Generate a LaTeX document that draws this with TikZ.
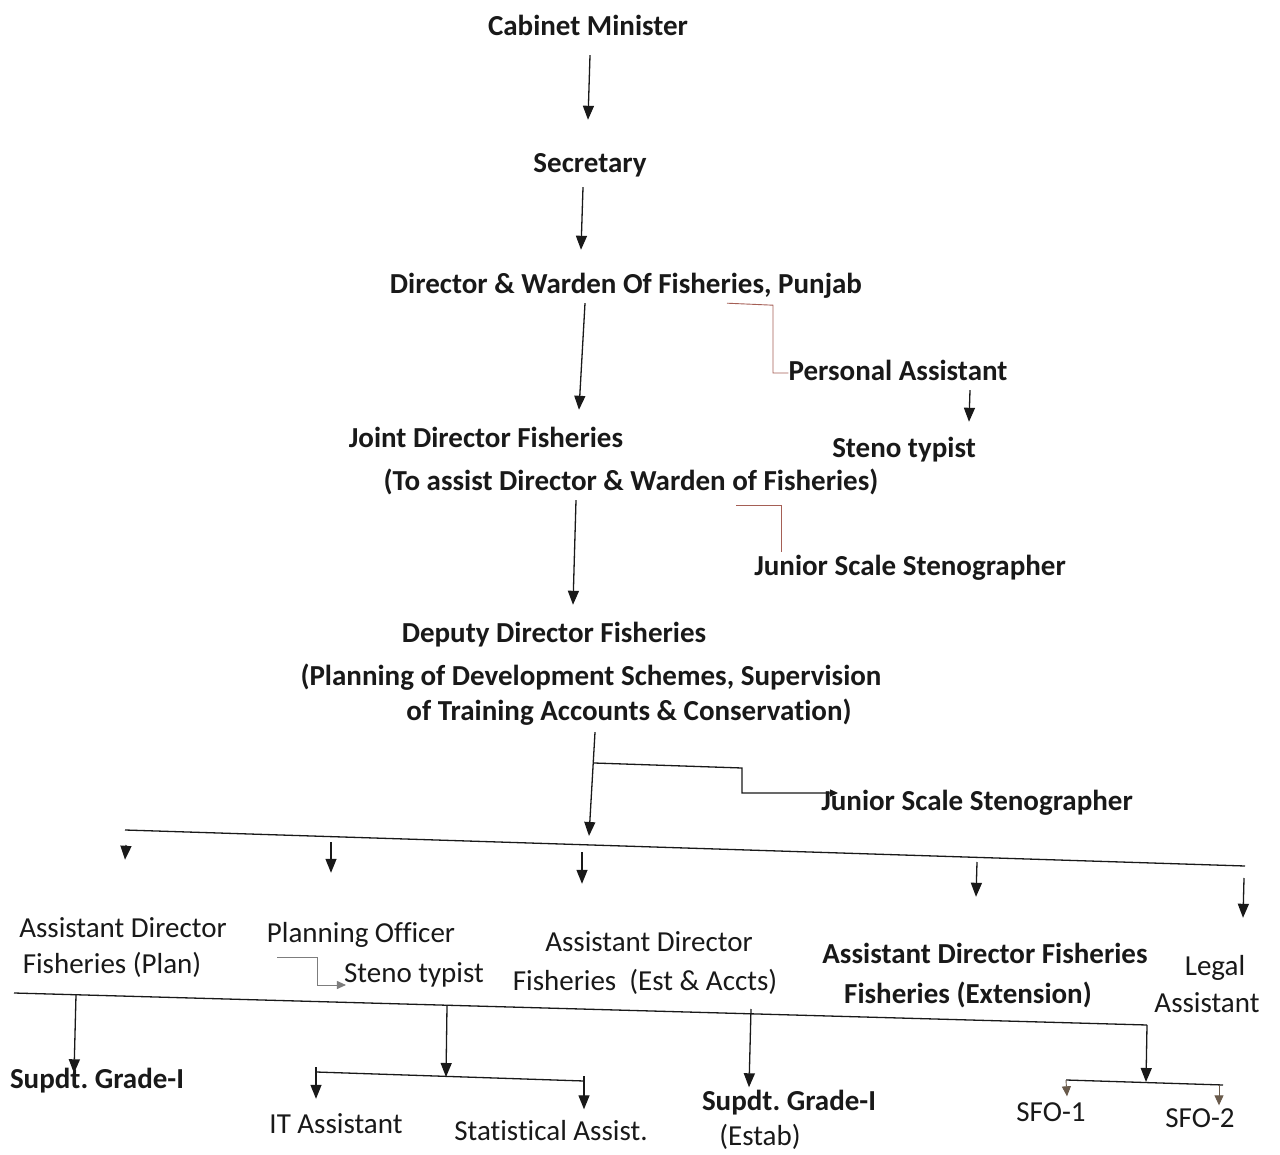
\documentclass[tikz,border=0pt]{standalone}
\usepackage{fontspec}
\setmainfont{Carlito}[Ligatures=NoCommon]
\usetikzlibrary{arrows.meta}
\definecolor{ink}{RGB}{25,25,25}
\definecolor{redline}{RGB}{165,95,85}
\definecolor{grayline}{RGB}{125,125,125}
\definecolor{brownarr}{RGB}{105,90,75}
\frenchspacing
\begin{document}
\begin{tikzpicture}[x=1pt,y=-1pt,
  lbl/.style={inner sep=0pt, text height=21pt, text depth=6pt, text=ink, font=\fontsize{29}{34}\selectfont},
  lblb/.style={lbl, font=\fontsize{29}{34}\selectfont\bfseries},
  arr/.style={draw=ink, line width=1.3pt, -{Triangle[width=11pt,length=14pt]}},
  sarr/.style={draw=brownarr, line width=0.9pt, -{Triangle[width=9pt,length=10pt]}},
  ln/.style={draw=ink, line width=1.3pt},
  rl/.style={draw=redline, line width=0.9pt},
  gl/.style={draw=grayline, line width=0.9pt, -{Triangle[width=8pt,length=9pt]}}]
\useasboundingbox[fill=white] (0,0) rectangle (1280,1155);

% ---------- nodes ----------
\node[lblb] (cab)   at (588,28)   {Cabinet Minister};
\node[lblb] (sec)   at (590,165)  {Secretary};
\node[lblb] (dir)   at (626,286)  {Director \& Warden Of Fisheries, Punjab};
\node[lblb] (pa)    at (898,373)  {Personal Assistant};
\node[lblb] (st1)   at (904,450)  {Steno typist};
\node[lblb] (jd)    at (486,440)  {Joint Director Fisheries};
\node[lblb] (jdsub) at (631,483)  {(To assist Director \& Warden of Fisheries)};
\node[lblb] (jss1)  at (910,568)  {Junior Scale Stenographer};
\node[lblb] (dd)    at (554,635)  {Deputy Director Fisheries};
\node[lblb] (dd2)   at (591,678)  {(Planning of Development Schemes, Supervision};
\node[lblb] (dd3)   at (629,713)  {of Training Accounts \& Conservation)};
\node[lblb] (jss2)  at (977,803)  {Junior Scale Stenographer};
\node[lbl]  (ad1a)  at (123,930)  {Assistant Director};
\node[lbl]  (ad1b)  at (112,966)  {Fisheries (Plan)};
\node[lbl]  (po)    at (361,935)  {Planning Officer};
\node[lbl]  (st2)   at (414,975)  {Steno typist};
\node[lbl]  (ad2a)  at (649,944)  {Assistant Director};
\node[lbl]  (ad2b)  at (645,983)  {Fisheries\ \ (Est \& Accts)};
\node[lblb] (ad3a)  at (985,956)  {Assistant Director Fisheries};
\node[lblb] (ad3b)  at (968,996)  {Fisheries (Extension)};
\node[lbl]  (lg1)   at (1215,968) {Legal};
\node[lbl]  (lg2)   at (1207,1005){Assistant};
\node[lblb] (sg1)   at (97,1081)  {Supdt. Grade-I};
\node[lbl]  (it)    at (336,1126) {IT Assistant};
\node[lbl]  (stat)  at (551,1133) {Statistical Assist.};
\node[lblb] (sg2)   at (789,1103) {Supdt. Grade-I};
\node[lbl]  (sg2b)  at (760,1138) {(Estab)};
\node[lbl]  (sfo1)  at (1051,1114){SFO-1};
\node[lbl]  (sfo2)  at (1200,1120){SFO-2};

% ---------- coordinates ----------
\coordinate (barL) at (125,830);
\coordinate (barR) at (1245,866);
\coordinate (ddtip) at (589,836);
\coordinate (ddbr) at (594,763);
\coordinate (d1) at (126,845);
\coordinate (d2) at (331,842);
\coordinate (d3) at (582,852);
\coordinate (d4) at (977,862);
\coordinate (d5) at (1244,878);
\coordinate (lbarL) at (14,993);
\coordinate (lbarR) at (1147,1025);
\coordinate (e1) at (76,995);
\coordinate (e2) at (447,1006);
\coordinate (e3) at (751,1009);
\coordinate (sbL) at (316,1072);
\coordinate (sbR) at (584,1081);
\coordinate (sbtip) at (446,1077);
\coordinate (sb2L) at (1066,1080);
\coordinate (sb2R) at (1223,1085);
\coordinate (sb2tip) at (1146,1082);

% ---------- connectors ----------
\draw[arr] ([xshift=2pt,yshift=-13.5pt]cab.south) -- ([xshift=-2pt,yshift=31.5pt]sec.north);
\draw[arr] ([xshift=-7pt,yshift=-8.5pt]sec.south) -- ([xshift=-45pt,yshift=22.5pt]dir.north);
\draw[arr] ([xshift=-41pt,yshift=-3.5pt]dir.south) -- ([xshift=93pt,yshift=16.5pt]jd.north);
\draw[rl] ([xshift=101pt,yshift=-3.5pt]dir.south) -- ++(46,2) |- (pa.west);
\draw[arr] ([xshift=72pt,yshift=-3.5pt]pa.south) -- ([xshift=65pt,yshift=14.5pt]st1.north);
\draw[rl] ([xshift=105pt,yshift=-9pt]jdsub.south) -- ++(45,0) -- ([xshift=-129pt,yshift=2pt]jss1.north);
\draw[arr] ([xshift=-55pt,yshift=-3.5pt]jdsub.south) -- ([xshift=19pt,yshift=16.5pt]dd.north);
\draw[arr] ([xshift=-34pt,yshift=-5.5pt]dd3.south) -- (ddtip);
\draw[ln, -{Triangle[width=7pt,length=8pt]}] (ddbr) -- ++(148,5) |- ([xshift=17pt,yshift=10pt]jss2.west);

\draw[ln] (barL) -- (barR);
\draw[arr] (d1) -- ([xshift=2pt,yshift=56.5pt]ad1a.north);
\draw[arr] (d2) -- ([xshift=-30pt,yshift=48.5pt]po.north);
\draw[arr] (d3) -- ([xshift=-67pt,yshift=46.5pt]ad2a.north);
\draw[arr] (d4) -- ([xshift=-9pt,yshift=45.5pt]ad3a.north);
\draw[arr] (d5) -- ([xshift=28pt,yshift=36.5pt]lg1.north);

\draw[gl] ([xshift=-84pt,yshift=-8.5pt]po.south) -- ++(40,0) |- ([xshift=2pt,yshift=-10pt]st2.west);

\draw[ln] (lbarL) -- (lbarR);
\draw[arr] (e1) -- ([xshift=-23pt,yshift=-6pt]sg1.north);
\draw[arr] (e2) -- (sbtip);
\draw[ln] (sbL) -- (sbR);
\draw[arr] ([yshift=5pt]sbL) -- ([xshift=-20pt,yshift=13.5pt]it.north);
\draw[arr] ([yshift=5pt]sbR) -- ([xshift=33pt,yshift=10pt]stat.north);
\draw[arr] (e3) -- ([xshift=-40pt,yshift=2pt]sg2.north);
\draw[arr] (lbarR) -- (sb2tip);
\draw[ln] (sb2L) -- (sb2R);
\draw[sarr] (sb2L) -- ([xshift=16pt,yshift=4pt]sfo1.north);
\draw[sarr] ([xshift=-4pt]sb2R) -- ([xshift=19pt,yshift=1pt]sfo2.north);
\end{tikzpicture}
\end{document}
